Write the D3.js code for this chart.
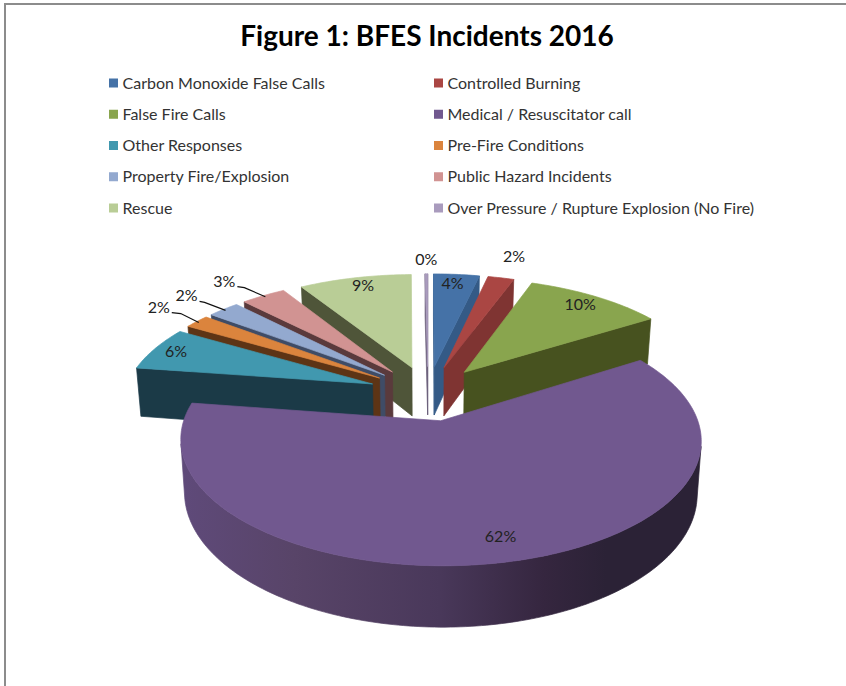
<!DOCTYPE html>
<html>
<head>
<meta charset="utf-8">
<script src="https://cdn.jsdelivr.net/npm/d3@7"></script>
<style>
html,body{margin:0;padding:0;background:#fff;overflow:hidden}
svg{display:block}
text{font-family:Lato,"Open Sans",sans-serif}
</style>
</head>
<body>
<svg id="c" width="846" height="686"></svg>
<script>
const title = "Figure 1: BFES Incidents 2016";
const categories = ["Carbon Monoxide False Calls","Controlled Burning","False Fire Calls","Medical / Resuscitator call","Other Responses","Pre-Fire Conditions","Property Fire/Explosion","Public Hazard Incidents","Rescue","Over Pressure / Rupture Explosion (No Fire)"];
const values = [3.5,2.0,10.5,61.2,6.1,1.9,2.4,3.4,8.6,0.2];
const percentLabels = ["4%","2%","10%","62%","6%","2%","2%","3%","9%","0%"];
const topColors = ["#4572a7","#aa4643","#89a54e","#71588f","#4198af","#db843d","#93a9cf","#d19392","#b9cd96","#a99bbd"];
const sideColors = ["#345a86","#7f3432","#47521f","#4e3d66","#1b3a47","#5d3415","#3f4c66","#5a3a3c","#4f5539","#6a5f7a"];
const labelOffsets = [[-4,10],[13,-21],[-16,8],[-5,-25],[21,3],[-38,-14],[-37,-13],[-39,-14],[8,8],[0,-14]];
const leaderElbows = [null,null,null,null,null,[-16,-8],[-19,-7],[-19,-8],null,null];
const rimStops = [0,0.22,0.5,0.7,0.82,1];
const rimShades = ["#5f4a7a","#584468","#49385a","#35263f","#2b2236","#2b2236"];

const svg = d3.select("#c");
const explode = 0.24, persp = 0.15, baseShrink = 0.985, depth = 50;
const xS = d3.scaleLinear().domain([-1,1]).range([428-248,428+248]);
const yS = d3.scaleLinear().domain([-1,1]).range([393+114,393-114]);
const cx = xS(0), cy = yS(0);
function proj(X,Y,base){
  const w = 1+persp*Y;
  let sx = cx+(xS(X)-cx)/w, sy = cy+(yS(Y)-cy)/w;
  if(base){ sx = cx+(sx-cx)*baseShrink; sy += depth/w; }
  return [sx,sy];
}
const line = d3.line().curve(d3.curveLinearClosed);
const area2 = p => d3.polygonArea(p);

const grad = svg.append("defs").append("linearGradient").attr("id","rim")
  .attr("gradientUnits","userSpaceOnUse").attr("x1",180).attr("x2",700).attr("y1",0).attr("y2",0);
grad.selectAll("stop").data(rimStops).join("stop")
  .attr("offset",d=>d).attr("stop-color",(d,i)=>rimShades[i]);

// frame
svg.append("path").attr("d","M5,686V4H846").attr("fill","none").attr("stroke","#8c8c8c").attr("stroke-width",2);

svg.append("text").attr("x",427).attr("y",46).attr("text-anchor","middle")
  .attr("font-size",28).attr("font-weight",700).attr("fill","#000").text(title);

// legend
const legX = d3.scalePoint().domain([0,1]).range([109,434]);
const legY = d3.scalePoint().domain(d3.range(5)).range([83,208]);
const leg = svg.selectAll("g.leg").data(categories).join("g").attr("class","leg")
  .attr("transform",(d,i)=>`translate(${legX(i%2)},${legY(Math.floor(i/2))})`);
leg.append("rect").attr("x",0).attr("y",-4.5).attr("width",9).attr("height",9).attr("fill",(d,i)=>topColors[i]);
leg.append("text").attr("x",13.5).attr("y",5.5).attr("font-size",16).attr("fill","#333").text(d=>d);

// pie
const pie = d3.pie().sort(null).startAngle(0).endAngle(2*Math.PI);
const arcs = pie(values).map((a,i)=>{
  const mid=(a.startAngle+a.endAngle)/2;
  return {i,a0:a.startAngle,a1:a.endAngle,mid,ox:explode*Math.sin(mid),oy:explode*Math.cos(mid)};
});
const pt=(s,t,r,base)=>proj(s.ox+r*Math.sin(t),s.oy+r*Math.cos(t),base);
const order=arcs.slice().sort((p,q)=>Math.cos(q.mid)-Math.cos(p.mid));
const gPie=svg.append("g");
order.forEach(s=>{
  const g=gPie.append("g");
  const side=sideColors[s.i];
  const face=(p,col)=>{ g.append("path").attr("d",line(p)).attr("fill",col).attr("stroke",col).attr("stroke-width",0.7); };
  // radial faces
  [[s.a0,-1],[s.a1,1]].forEach(([t,sgn])=>{
    const a=pt(s,t,0,false),b=pt(s,t,1,false),c=pt(s,t,1,true),d=pt(s,t,0,true);
    const f=area2([a,b,c,d])*sgn;
    if(f<0) face([a,b,c,d],side);
  });
  // outer rim, as one outline per slice
  const n=Math.max(2,Math.ceil((s.a1-s.a0)/(Math.PI/180)));
  const upper=[],lower=[];
  for(let k=0;k<n;k++){
    const t0=s.a0+(s.a1-s.a0)*k/n,t1=s.a0+(s.a1-s.a0)*(k+1)/n;
    const a=pt(s,t0,1,false),b=pt(s,t1,1,false),c=pt(s,t1,1,true),e=pt(s,t0,1,true);
    if(area2([a,b,c,e])>0){
      if(!upper.length){upper.push(a);lower.push(e);}
      upper.push(b);lower.push(c);
    }
  }
  if(upper.length) face(upper.concat(lower.reverse()), s.i===3?"url(#rim)":side);
  // top
  const top=[pt(s,0,0,false)];
  for(let k=0;k<=n;k++) top.push(pt(s,s.a0+(s.a1-s.a0)*k/n,1,false));
  face(top,topColors[s.i]);
});

// labels and leaders
arcs.forEach(s=>{
  const anc=pt(s,s.mid,1,false);
  const o=labelOffsets[s.i], el=leaderElbows[s.i];
  if(el){
    const lx=anc[0]+o[0], ly=anc[1]+o[1];
    svg.append("path").attr("d",d3.line()([[lx+13,ly+5],[anc[0]+el[0],anc[1]+el[1]],[anc[0]+2,anc[1]+1]]))
      .attr("fill","none").attr("stroke","#111").attr("stroke-width",1.2);
  }
  svg.append("text").attr("x",anc[0]+o[0]).attr("y",anc[1]+o[1]+5).attr("text-anchor","middle")
    .attr("font-size",16).attr("fill","#222").text(percentLabels[s.i]);
});
</script>
</body>
</html>
